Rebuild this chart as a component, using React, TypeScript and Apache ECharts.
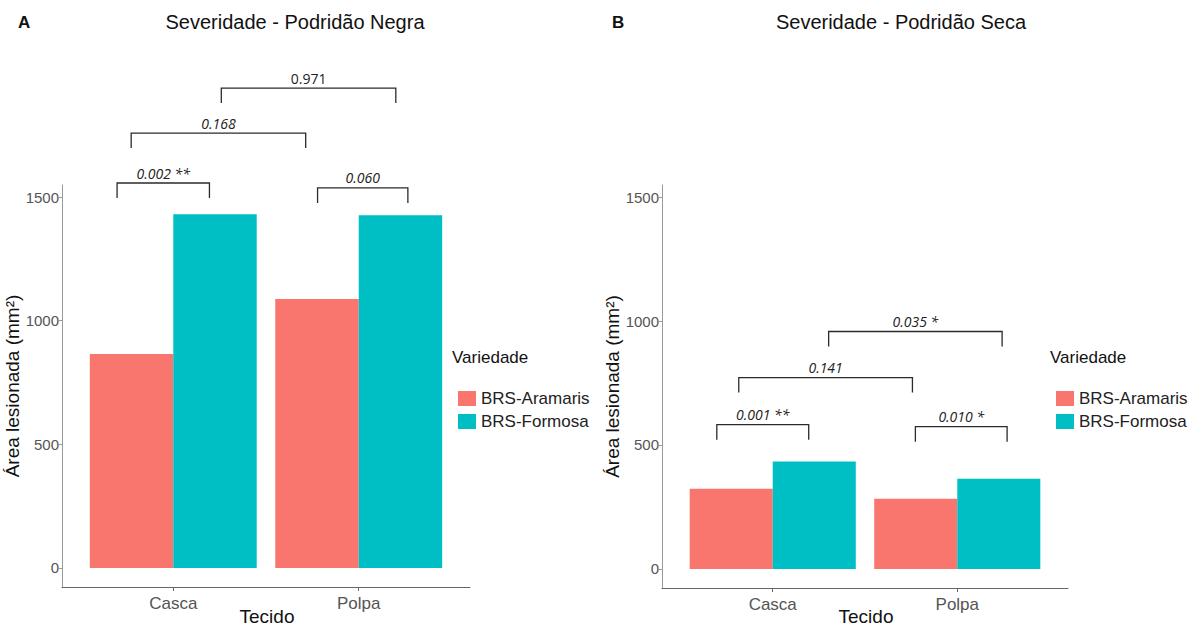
import React, { useEffect, useRef } from "react";
import * as echarts from "echarts";

// Tissue categories on the x axis (positions 1 and 2)
const categories = ["Casca", "Polpa"];
const varieties = ["BRS-Aramaris", "BRS-Formosa"];
const colors = ["#F8766D", "#00BFC4"];

// Lesioned area (mm²) – black rot
const negraAramaris = [865, 1088];
const negraFormosa = [1431, 1427];
// Lesioned area (mm²) – dry rot
const secaAramaris = [323, 283];
const secaFormosa = [433, 364];

const yTicks = [0, 500, 1000, 1500];

// Comparison brackets: [x start, x end, height in mm²]
const negraBrackets = [
  [0.697, 1.195, 1557],
  [1.778, 2.265, 1537],
  [0.773, 1.714, 1759],
  [1.259, 2.2, 1941],
];
const negraLabels = ["0.002 **", "0.060", "0.168", "0.971"];
const negraItalic = [true, true, true, false];

const secaBrackets = [
  [0.697, 1.195, 582],
  [1.773, 2.27, 574],
  [0.816, 1.757, 772],
  [1.303, 2.243, 958],
];
const secaLabels = ["0.001 **", "0.010 *", "0.141", "0.035 *"];
const secaItalic = [true, true, true, true];

const AXIS_FONT = "Liberation Sans, Arial, sans-serif";
const HALF = 0.225;

function barSeries(name: string, values: number[], color: string, panel: number, dx: number) {
  return {
    type: "custom",
    name,
    xAxisIndex: panel,
    yAxisIndex: panel,
    itemStyle: { color },
    encode: { x: 0, y: 1 },
    data: values.map((v, i) => [i + 1, v]),
    renderItem: (params: any, api: any) => {
      const x = api.value(0) + dx;
      const y = api.value(1);
      const p0 = api.coord([x - HALF, y]);
      const p1 = api.coord([x + HALF, 0]);
      return {
        type: "rect",
        shape: { x: p0[0], y: p0[1], width: p1[0] - p0[0], height: p1[1] - p0[1] },
        style: { fill: color },
      };
    },
  };
}

function bracketSeries(panel: number, data: number[][], labels: string[], italic: boolean[]) {
  return {
    type: "custom",
    xAxisIndex: panel,
    yAxisIndex: panel,
    silent: true,
    clip: false,
    encode: { x: [0, 1], y: 2 },
    data,
    renderItem: (params: any, api: any) => {
      const a = api.coord([api.value(0), api.value(2)]);
      const b = api.coord([api.value(1), api.value(2)]);
      const drop = 15;
      const i = params.dataIndex;
      return {
        type: "group",
        children: [
          {
            type: "polyline",
            shape: {
              points: [
                [a[0], a[1] + drop],
                [a[0], a[1]],
                [b[0], b[1]],
                [b[0], b[1] + drop],
              ],
            },
            style: { stroke: "#2b2b2b", lineWidth: 1.3, fill: "none" },
          },
          {
            type: "text",
            x: (a[0] + b[0]) / 2,
            y: a[1] - 3,
            style: {
              text: labels[i],
              align: "center",
              verticalAlign: "bottom",
              fontFamily: "Open Sans, sans-serif",
              fontStyle: italic[i] ? "italic" : "normal",
              fontSize: 14,
              fill: "#222",
            },
          },
        ],
      };
    },
  };
}

function xAxis(panel: number) {
  return {
    type: "value",
    gridIndex: panel,
    min: 0.4,
    max: 2.6,
    splitLine: { show: false },
    axisLine: { show: true, onZero: false, lineStyle: { color: "#666", width: 1 } },
    axisTick: { show: true, customValues: [1, 2], length: 4, lineStyle: { color: "#666" } },
    axisLabel: {
      customValues: [1, 2],
      formatter: (v: number) => categories[Math.round(v) - 1] ?? "",
      color: "#555",
      fontSize: 17,
      margin: 8,
      fontFamily: AXIS_FONT,
    },
  };
}

function yAxis(panel: number) {
  return {
    type: "value",
    gridIndex: panel,
    min: -77,
    max: 1549,
    name: "Área lesionada (mm²)",
    nameLocation: "middle",
    nameRotate: 90,
    nameGap: 34,
    nameTextStyle: { color: "#111", fontSize: 19, fontFamily: AXIS_FONT },
    splitLine: { show: false },
    axisLine: { show: true, onZero: false, lineStyle: { color: "#999", width: 1 } },
    axisTick: { show: true, customValues: yTicks, length: 3, lineStyle: { color: "#999" } },
    axisLabel: {
      customValues: yTicks,
      formatter: (v: number) => String(v),
      color: "#555",
      fontSize: 15,
      margin: 3,
      fontFamily: AXIS_FONT,
    },
  };
}

function legend(left: number) {
  return {
    left,
    top: 385,
    orient: "vertical",
    icon: "rect",
    itemWidth: 18,
    itemHeight: 15,
    itemGap: 6,
    selectedMode: false,
    data: varieties,
    textStyle: { fontSize: 17, color: "#222", fontFamily: AXIS_FONT },
  };
}

function text(x: number, y: number, t: string, size: number, weight = "normal", align = "left") {
  return {
    type: "text",
    x,
    y,
    style: {
      text: t,
      fontSize: size,
      fontWeight: weight,
      fontFamily: AXIS_FONT,
      fill: "#111",
      align,
      verticalAlign: "middle",
    },
  };
}

export default function App() {
  const ref = useRef<HTMLDivElement>(null);

  useEffect(() => {
    if (!ref.current) return;
    const chart = echarts.init(ref.current, undefined, { renderer: "svg" });
    chart.setOption({
      animation: false,
      backgroundColor: "#fff",
      grid: [
        { left: 62, top: 185, width: 408, height: 402, outerBoundsMode: "none", containLabel: false },
        { left: 662, top: 185, width: 406, height: 403, outerBoundsMode: "none", containLabel: false },
      ],
      xAxis: [xAxis(0), xAxis(1)],
      yAxis: [yAxis(0), yAxis(1)],
      legend: [legend(453), legend(1051)],
      graphic: [
        text(18, 22, "A", 17, "bold"),
        text(295, 22, "Severidade - Podridão Negra", 20, "normal", "center"),
        text(452, 357, "Variedade", 17),
        text(267, 616, "Tecido", 19, "normal", "center"),
        text(612, 22, "B", 17, "bold"),
        text(901, 22, "Severidade - Podridão Seca", 20, "normal", "center"),
        text(1050, 357, "Variedade", 17),
        text(866, 616, "Tecido", 19, "normal", "center"),
      ],
      series: [
        barSeries(varieties[0], negraAramaris, colors[0], 0, -HALF),
        barSeries(varieties[1], negraFormosa, colors[1], 0, HALF),
        barSeries(varieties[0], secaAramaris, colors[0], 1, -HALF),
        barSeries(varieties[1], secaFormosa, colors[1], 1, HALF),
        bracketSeries(0, negraBrackets, negraLabels, negraItalic),
        bracketSeries(1, secaBrackets, secaLabels, secaItalic),
      ],
    });
    return () => chart.dispose();
  }, []);

  return (
    <div
      ref={ref}
      style={{ position: "fixed", left: 0, top: 0, width: 1197, height: 625 }}
    />
  );
}
